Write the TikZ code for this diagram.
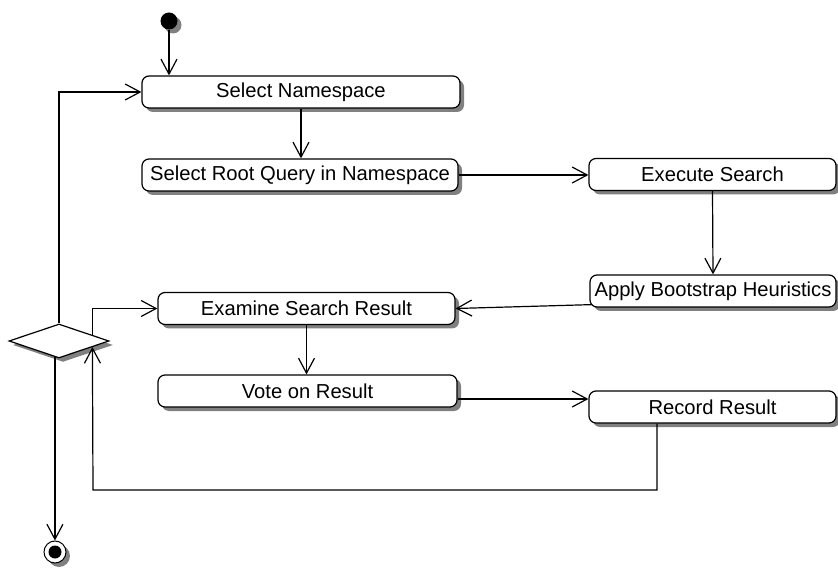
\documentclass[tikz,border=0pt]{standalone}
\usepackage{fontspec}
\setmainfont{Liberation Sans}
\usetikzlibrary{arrows.meta,shapes.geometric,calc}
\begin{document}
\begin{tikzpicture}[x=1pt,y=-1pt,
  shadowed/.style={preaction={draw=none, fill=black!50, transform canvas={shift={(4pt,-4pt)}}}},
  act/.style={draw, line width=1.2pt, fill=white, rounded corners=7pt, inner sep=0pt,
    minimum height=32pt, font=\fontsize{20.2}{24}\selectfont, shadowed},
  conn/.style={line width=1.2pt},
  arr/.style={conn, -{Straight Barb[length=15pt,width=16pt,line width=1.2pt]}},
]
\useasboundingbox (0,0) rectangle (838,569);

\node[circle, fill=black, minimum size=17pt, inner sep=0pt, shadowed] (I) at (169,21) {};

\node[act, minimum width=318pt] (SN) at (301,92) {Select Namespace};
\node[act, minimum width=316pt] (SRQ) at (300,175) {Select Root Query in Namespace};
\node[act, minimum width=247pt] (ES) at (712.5,174.5) {Execute Search};
\node[act, minimum width=246pt] (AB) at (713,291) {Apply Bootstrap Heuristics};
\node[act, minimum width=297pt] (EX) at (306.5,308.5) {Examine Search Result};
\node[act, minimum width=299pt] (VO) at (307.5,391) {Vote on Result};
\node[act, minimum width=247pt] (RR) at (712.5,407) {Record Result};

\node[diamond, draw, line width=1.2pt, fill=white, minimum width=100pt, minimum height=34pt,
  inner sep=0pt, shadowed] (D) at (59,341) {};

\node[circle, draw, line width=1pt, fill=white, minimum size=22pt, inner sep=0pt, shadowed] (F) at (55,552) {};
\node[circle, fill=black, minimum size=13pt, inner sep=0pt] (Fi) at (F) {};

\draw[arr] (I) -- (I |- SN.north);
\draw[arr] (SN.south) -- (SN.south |- SRQ.north);
\draw[arr] (SRQ.east) -- (SRQ.east -| ES.west);
\draw[arr] (ES.south) -- (AB.north);
\draw[arr] ([shift={(3pt,3pt)}]AB.south west) -- (EX.east);
\draw[arr] (EX.south) -- (EX.south |- VO.north);
\draw[arr] ([yshift=-8pt]VO.east) -- ([yshift=-8pt]VO.east -| RR.west);

\coordinate (c1) at (657,490);
\coordinate (c2) at (93,490);
\draw[arr] (c1 |- RR.south) -- (c1) -- (c2) -- ($(D.east)!0.34!(D.south)$);
\draw[arr] ($(D.east)!0.34!(D.north)$) |- (EX.west);
\draw[arr] (D.north) |- (SN.west);
\coordinate (dOut) at ($(D.south)!0.08!(D.west)$);
\draw[arr] (dOut) -- (dOut |- F.north);
\end{tikzpicture}
\end{document}
